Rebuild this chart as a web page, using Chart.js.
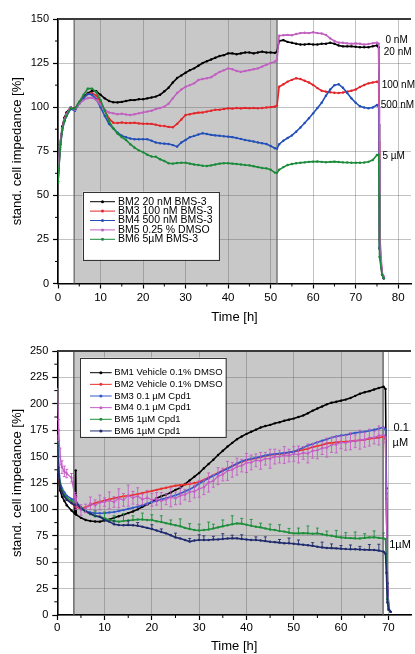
<!DOCTYPE html>
<html><head><meta charset="utf-8">
<script src="https://cdn.jsdelivr.net/npm/chart.js@4.4.0/dist/chart.umd.min.js"></script>
<style>html,body{margin:0;padding:0;background:#fff;overflow:hidden}canvas{display:block}</style>
</head><body>
<canvas id="c1" width="415" height="330"></canvas>
<canvas id="c2" width="415" height="324"></canvas>
<script>
// ---------- TOP CHART DATA ----------
const xTop = [0,0.5,1,1.5,2,
 3,4,5,6,7,8,9,10,
 11,12,13,14,15,16,17,18,19,20,
 21,22,23,24,25,26,27,28,29,30,
 31,32,33,34,35,36,37,38,39,40,
 41,42,43,44,45,46,47,48,49,50,51,
 51.5,52,
 53,54,55,56,57,58,59,60,
 61,62,63,64,65,66,67,68,69,70,
 71,72,73,74,75,
 75.4,75.5,75.6,76.2,76.6];
const xTicksTop = [0,10,20,30,40,50,60,70,80];
const yTicksTop = [0,25,50,75,100,125,150];
const topLabels = ['BM2 20 nM BMS-3','BM3 100 nM BMS-3','BM4 500 nM BMS-3','BM5 0.25 % DMSO','BM6 5µM BMS-3'];
const t_BM2 = [60,79,89,94,97,
 100,99,103,106,108,109.3,109,107,
 105,103.5,102.8,102.7,103,103.5,104,104,104.5,104.5,
 105,105.5,106,107,109,111,114,116.5,118,119.5,
 121,122,123.5,125,126,127,128,129,129.5,130.5,
 130.5,130,130.5,131,131,130.5,131,131.5,131,131,130.8,
 131.5,137.5,
 138,137,136.5,136,135.5,135.5,135.8,135.5,
 135.5,136,136,136.5,136,135,134.5,134.5,134.5,134.3,
 134,134,134,134.5,135,
 134,90,20,5,3];
const t_BM3 = [58,77,88,93,96,
 100,98.5,102.5,105.5,107.5,108,106.5,103,
 98,93.5,91.2,91,91.3,91,91,91.2,90.8,90.6,
 90.6,90.5,90,89.5,89.3,88.8,88.6,90.5,93,95.6,
 96,96.5,96.9,97,97.5,98,98.5,98.5,99,99.4,
 99.2,99.5,99.3,99.6,99.4,99.5,99.4,99.5,99.8,100,100.3,
 101,111.6,
 113,114.5,115.5,116.4,116,115,114,112.6,
 110.8,109.3,108.8,108.5,108.2,108,108.3,108.8,109.3,110,
 111.5,112.6,113.5,114,114.5,
 114,80,25,5,3];
const t_BM4 = [58,77,87,92,95,
 99,98,102,105,107.5,107,104.5,100,
 95,90.5,88,85.5,83.8,83,82.2,81.8,81.8,81.8,
 81.8,81,80,79.5,79.3,79.1,78.5,77.6,80,81.4,
 83,83.7,84.5,85.2,84.8,84.3,84,83.8,83.5,83.3,
 83,82.5,82,81.4,81,80.5,80,79.5,79.1,78,76.7,
 76.5,79,
 81,82.5,84,86.1,88.5,91,93.7,96.5,
 99.5,102.5,106.5,110,112.5,113,111,108,105,102.5,
 100.5,99.8,99.4,99.8,101.2,
 100.5,70,20,5,3];
const t_BM5 = [62,80,88,93,96,
 100,98.5,102,104,105.2,105.4,104,101.5,
 98.5,97,96.5,96,96.3,95.8,95.6,96,96.5,97,
 97.5,98,99,99.5,100.3,102,105,108,110,111.6,
 112.5,113.5,115.4,116,116.4,117,118.5,120,121,122,
 121.5,120.5,120,120.5,121,121.5,122,123,124,125,125.8,
 127,140.5,
 140.8,141,140.8,141.5,142,142.2,142,142.5,
 142,141.8,141,139,137.5,136.6,136.5,136.2,136,136.2,
 136,135.5,135.8,136.2,136.6,
 136,100,30,6,4];
const t_BM6 = [57,76,87,92,95,
 99.5,99,103,107,110.5,110.5,108.5,104,
 98,92,88,85,83,81.4,79,77,75.5,74.5,
 73,72,71.9,70.5,69.5,68.2,68,68.3,68.5,68.5,
 68,67.5,67.2,66.8,66.6,67,67.5,68,68.2,68.2,
 68,67.8,67.5,67.2,67,66.5,66,65.5,65.3,64.5,62.9,
 62.8,64.5,
 66,67.2,67.8,68.2,68.5,68.7,69,69.1,
 69.2,69,68.8,69,69.1,68.9,68.7,68.6,68.5,68.5,
 68.5,68.6,69,70,72.9,
 73,50,15,5,3];

// ---------- BOTTOM CHART DATA ----------
const xBot = [0,0.3,0.6,1,1.5,2,3,3.7,3.9,
 4,5,6,7,8,9,10,
 11,12,13,14,15,16,17,18,19,20,
 21,22,23,24,25,26,27,28,29,30,
 31,32,33,34,35,36,37,38,39,40,
 41,42,43,44,45,46,47,48,49,50,
 51,52,53,54,55,56,57,58,59,60,
 61,62,63,64,65,66,67,68,69,
 69.4,69.6,69.8,70.1,70.5];
const xTicksBot = [0,10,20,30,40,50,60,70];
const yTicksBot = [0,25,50,75,100,125,150,175,200,225,250];
const botLabels = ['BM1 Vehicle 0.1% DMSO','BM2 Vehicle 0.1% DMSO','BM3 0.1 µM Cpd1','BM4 0.1 µM Cpd1','BM5 1µM Cpd1','BM6 1µM Cpd1'];
const b_BM1 = [160,128,118,112,108,104,99,96,137,
 95,92,90,89,88.5,88.4,89.5,
 90.5,92,93.5,95,96.5,98,100,102.5,104.5,107,
 110.5,112.5,114,116,118.5,120.5,124,127.5,131,134.5,
 139,143,147,151.5,155.5,159.5,163,166.5,169,171.5,
 173.5,175.5,177.5,179,180,181.5,182.5,184,185,186,
 187.5,189,191,193.5,195.5,197.5,199.5,201,202,203,
 204,205.5,207.5,209.5,211,212,213.5,215,216.2,
 214,120,30,6,3];
const b_BM2 = [150,130,122,117,113,110,106,103,103,
 102.5,100.5,102,104.2,106,107.3,108.5,
 109.5,110.5,111.5,112.5,113,113.6,114.5,115.5,116.5,117.5,
 118.5,119.5,120.5,121.5,122.5,123,123.5,124,125,126,
 128,130,132.5,134.5,137,139,141,143,145,146.5,
 147.5,148.5,149.5,150.5,151.5,152,152.5,153,154,154.7,
 155.5,156.5,157.5,159,160,161,162.5,163,163.5,164,
 164.2,164.5,165,165.5,166,167,167.5,168,168.8,
 167,110,25,5,3];
const b_BM3 = [170,140,125,120,116,113,110,108,107.5,
 107,102,98.5,97,96.5,96.3,96.5,
 97,97.5,98.5,99.5,100.5,101.5,102.5,104,105.5,107,
 108,109.5,110.5,112,113.5,115,117,119,121.5,124.5,
 127,129.5,132,134,136.5,138.5,141,143.5,145.5,147,
 148,149,150,151,152,152.5,153,153.5,154,154.7,
 156.5,158.5,160.5,162,163.5,165,166.5,168,169,170,
 170.5,171.5,172.5,173,173.6,174.5,175.5,176.5,177.7,
 176,115,30,6,3];
const b_BM4 = [214,175,150,140,136,134,130,112,110,
 106,99.4,101,105.7,104,106.5,107,
 108.5,107,110.5,109,113,111,112.5,109.5,111,109,
 110,108,109.5,111.5,110.5,113,114,116.5,117,119.5,
 121,125.5,127,131.5,133,136.5,137.5,140.5,141.5,144,
 144.5,146.5,146,148,148,150,150,151.5,151,152.5,
 152,153.5,153,155.5,156,158,158.5,161,161.5,163.5,
 163,164.5,164.5,166,166,168,168,170,170.5,
 168,100,25,5,3];
const b_BM5 = [165,135,124,118,114,111,108,107,106.5,
 106,102,98,95.5,93.5,93,91.5,
 90,89,88.4,89,89.5,90,90.5,90.5,90,90,
 88.8,88,87,86,85,84,82.5,81.5,80.5,80,
 80.5,81,82,83,84,85,86,86.8,86.5,85.5,
 84.5,83.6,83,82,81,80.5,79.5,79,78,77.3,
 77.3,77.5,77.3,77,77.3,76.5,75.5,75,74.1,73.5,
 73,72.8,72.6,72.5,73,73.5,73.6,73,72.6,
 72,50,15,5,3];
const b_BM6 = [165,132,122,116,112,109,106,104,104,
 106,101,98,96,94,93,90,
 88.4,86,85.2,85,85.2,85,84.5,83.5,82.5,81.5,
 80,78.5,77.3,75.5,73.5,72.5,71,69.5,70.5,71,
 71,71,71.5,71.6,72,72.5,72.6,72.6,72,71.5,
 71,71,70.5,70,69.4,69,68.5,68,67.9,67.5,
 67,66.5,66,65.5,64.7,64,63.5,63.3,63.1,62.8,
 62.5,62.3,62.2,62,61.8,61.7,61.6,61,60,
 58,40,12,5,3];
const b_BM4_err = [0,10,8,6,5,4,4,4,4,
 6,5,4,6,5,7,4,
 8,5,9,6,10,6,8,5,7,6,
 6,8,5,9,6,8,5,9,6,8,
 7,9,6,8,6,9,7,8,6,9,
 7,6,8,6,9,7,6,8,6,7,
 8,6,9,7,8,6,9,7,8,6,
 7,8,6,9,7,8,6,9,7,
 0,0,0,0,0];
const b_BM5_err = [0,0,0,0,0,0,0,0,0,
 0,0,0,0,5,0,6,
 0,5,0,7,0,4,0,6,0,5,
 0,6,0,4,0,7,0,5,0,6,
 0,7,4,0,6,0,8,0,5,0,
 6,0,4,0,5,0,6,0,4,0,
 5,0,7,0,5,0,4,0,6,0,
 5,0,6,0,4,0,6,0,5,
 0,0,0,0,0];
const b_BM6_err = [0,0,0,0,0,0,0,0,0,
 0,0,0,0,0,0,0,
 0,3,0,0,4,0,3,0,0,4,
 0,3,0,0,4,0,0,3,0,5,
 4,0,3,0,5,0,3,0,4,0,
 0,3,0,4,0,0,3,0,5,0,
 4,0,0,3,0,5,0,4,0,3,
 0,4,0,3,0,5,0,6,0,
 0,0,0,0,0];

// ---------- helpers ----------
Chart.defaults.font.family = "'Liberation Sans', Arial, sans-serif";
Chart.defaults.color = '#000';

function pts(xs, ys){ return xs.map((x,i)=>({x:x, y:ys[i]})); }
function ds(label, xs, ys, color, order, extra){
  return Object.assign({label:label, data:pts(xs,ys), borderColor:color, backgroundColor:color,
    pointBackgroundColor:color, pointBorderWidth:0, pointRadius:1.2, borderWidth:1.6,
    tension:0, order:order}, extra||{});
}

function decor(cfg){
  return {
    id:'decor',
    beforeDraw(chart){
      const {ctx, chartArea:a, scales:{x}} = chart;
      const x0 = x.getPixelForValue(cfg.shade[0]), x1 = x.getPixelForValue(cfg.shade[1]);
      ctx.save(); ctx.fillStyle = cfg.shadeColor;
      ctx.fillRect(x0, a.top, x1-x0, a.bottom-a.top); ctx.restore();
    },
    beforeDatasetsDraw(chart){
      const {ctx, chartArea:a, scales:{x}} = chart;
      ctx.save(); ctx.strokeStyle = cfg.edgeColor; ctx.lineWidth = 1.3;
      cfg.shade.forEach(v=>{ const px = x.getPixelForValue(v);
        ctx.beginPath(); ctx.moveTo(px, a.top); ctx.lineTo(px, a.bottom); ctx.stroke(); });
      ctx.restore();
    },
    afterDatasetsDraw(chart){
      const {ctx, chartArea:a, scales:{x, y}} = chart;
      ctx.save();
      chart.data.datasets.forEach(d=>{
        if(!d.errors) return;
        ctx.strokeStyle = d.borderColor; ctx.lineWidth = 0.9;
        d.data.forEach((p,j)=>{
          const e = d.errors[j]; if(!e) return;
          const px = x.getPixelForValue(p.x);
          const yt = y.getPixelForValue(p.y+e);
          const yb = y.getPixelForValue(d.errUpOnly ? p.y : p.y-e);
          ctx.beginPath(); ctx.moveTo(px,yt); ctx.lineTo(px,yb);
          ctx.moveTo(px-1.5,yt); ctx.lineTo(px+1.5,yt);
          if(!d.errUpOnly){ ctx.moveTo(px-1.5,yb); ctx.lineTo(px+1.5,yb); }
          ctx.stroke();
        });
      });
      // top frame line
      ctx.strokeStyle = '#3a3a3a'; ctx.lineWidth = 2;
      ctx.beginPath(); ctx.moveTo(a.left, a.top); ctx.lineTo(a.right, a.top); ctx.stroke();
      // minor ticks
      ctx.strokeStyle = '#000'; ctx.lineWidth = 1;
      for(let v = cfg.xMinor; v < x.max; v += cfg.xMinor*2){
        const px = x.getPixelForValue(v);
        ctx.beginPath(); ctx.moveTo(px, a.bottom); ctx.lineTo(px, a.bottom+3); ctx.stroke();
      }
      for(let v = cfg.yMinor; v < y.max; v += cfg.yMinor*2){
        const py = y.getPixelForValue(v);
        ctx.beginPath(); ctx.moveTo(a.left, py); ctx.lineTo(a.left-3, py); ctx.stroke();
      }
      // legend
      const lg = cfg.legend;
      const L = a.left + lg.dx, T = a.top + lg.dy;
      ctx.fillStyle = '#fff'; ctx.fillRect(L, T, lg.w, lg.h);
      ctx.strokeStyle = '#333'; ctx.lineWidth = 1; ctx.strokeRect(Math.round(L)+0.5, Math.round(T)+0.5, lg.w, lg.h);
      ctx.font = lg.font; ctx.textBaseline = 'middle'; ctx.textAlign = 'left';
      chart.data.datasets.forEach((d,i)=>{
        const yy = T + lg.first + i*lg.row;
        ctx.strokeStyle = d.borderColor; ctx.lineWidth = 1;
        ctx.beginPath(); ctx.moveTo(L+lg.sx0, yy); ctx.lineTo(L+lg.sx1, yy); ctx.stroke();
        ctx.fillStyle = d.borderColor; ctx.beginPath(); ctx.arc(L+(lg.sx0+lg.sx1)/2, yy, 1.5, 0, Math.PI*2); ctx.fill();
        ctx.fillStyle = '#000'; ctx.fillText(d.label, L+lg.tx, yy);
      });
      // side labels
      ctx.font = cfg.labelFont; ctx.fillStyle = '#000';
      cfg.labels.forEach(l=> ctx.fillText(l.text, x.getPixelForValue(l.x), y.getPixelForValue(l.y)));
      ctx.restore();
    }
  };
}

function axes(xmax, xticks, ymax, yticks, yw, xh, xPad, titlePad){
  const grid = {color:'rgba(95,95,95,0.38)', lineWidth:1, tickLength:5, tickColor:'#000', tickWidth:1.2, drawTicks:true};
  return {
    x:{type:'linear', min:0, max:xmax,
      afterBuildTicks:s=>{ s.ticks = xticks.map(v=>({value:v})); },
      ticks:{font:{size:11.5}, color:'#000', padding:xPad, maxRotation:0, autoSkip:false},
      grid:grid, border:{color:'#000', width:1.6},
      title:{display:true, text:'Time [h]', font:{size:13}, color:'#000', padding:{top:0, bottom:titlePad}},
      afterFit:s=>{ s.height = xh; }},
    y:{type:'linear', min:0, max:ymax,
      afterBuildTicks:s=>{ s.ticks = yticks.map(v=>({value:v})); },
      ticks:{font:{size:11}, color:'#000', padding:4},
      grid:grid, border:{color:'#000', width:1.6},
      title:{display:true, text:'stand. cell impedance [%]', font:{size:13}, color:'#000', padding:{top:10, bottom:0}},
      afterFit:s=>{ s.width = yw; }}
  };
}

// ---------- TOP CHART ----------
new Chart(document.getElementById('c1'), {
  type:'line',
  data:{datasets:[
    ds(topLabels[0], xTop, t_BM2, '#000000', 4),
    ds(topLabels[1], xTop, t_BM3, '#e3262b', 3),
    ds(topLabels[2], xTop, t_BM4, '#2350b8', 2),
    ds(topLabels[3], xTop, t_BM5, '#c060c0', 1),
    ds(topLabels[4], xTop, t_BM6, '#1b8a3a', 0)
  ]},
  options:{responsive:false, animation:false, devicePixelRatio:1,
    layout:{padding:{top:19, right:0, left:0, bottom:0}},
    plugins:{legend:{display:false}, tooltip:{enabled:false}},
    scales:axes(83, xTicksTop, 150, yTicksTop, 58, 46.5, 2, 5)},
  plugins:[decor({shade:[3.8,51.5], shadeColor:'#c8c8c8', edgeColor:'#6a6a6a', xMinor:5, yMinor:12.5,
    legend:{dx:24.7, dy:172.7, w:136, h:68, first:10, row:9.4, sx0:7.3, sx1:32.3, tx:35.3, font:"10.5px 'Liberation Sans', Arial, sans-serif"},
    labelFont:"10px 'Liberation Sans', Arial, sans-serif",
    labels:[{text:'0 nM', x:77.0, y:138.1},{text:'20 nM', x:76.6, y:130.9},{text:'100 nM', x:76.1, y:112.6},
            {text:'500 nM', x:75.9, y:101.2},{text:'5 µM', x:76.3, y:71.9}]})]
});

// ---------- BOTTOM CHART ----------
new Chart(document.getElementById('c2'), {
  type:'line',
  data:{datasets:[
    ds(botLabels[0], xBot, b_BM1, '#000000', 5),
    ds(botLabels[1], xBot, b_BM2, '#e8302f', 4),
    ds(botLabels[2], xBot, b_BM3, '#3558c8', 3),
    ds(botLabels[3], xBot, b_BM4, '#c55cc5', 2, {errors:b_BM4_err, borderWidth:1.2}),
    ds(botLabels[4], xBot, b_BM5, '#1f8f3c', 1, {errors:b_BM5_err, errUpOnly:true}),
    ds(botLabels[5], xBot, b_BM6, '#1f2a6e', 0, {errors:b_BM6_err, errUpOnly:true})
  ]},
  options:{responsive:false, animation:false, devicePixelRatio:1,
    layout:{padding:{top:21, right:0, left:0, bottom:0}},
    plugins:{legend:{display:false}, tooltip:{enabled:false}},
    scales:axes(74.8, xTicksBot, 250, yTicksBot, 57.3, 39, 1, 0)},
  plugins:[decor({shade:[3.5,68.9], shadeColor:'#c8c8c8', edgeColor:'#5a5a5a', xMinor:5, yMinor:12.5,
    legend:{dx:22.7, dy:6.7, w:145.7, h:79, first:15, row:11.65, sx0:10, sx1:31.7, tx:34.3, font:"9.5px 'Liberation Sans', Arial, sans-serif"},
    labelFont:"11px 'Liberation Sans', Arial, sans-serif",
    labels:[{text:'0.1', x:71.1, y:177.4},{text:'µM', x:70.9, y:163.2},{text:'1µM', x:70.2, y:66.3}]})]
});
</script>
</body></html>
